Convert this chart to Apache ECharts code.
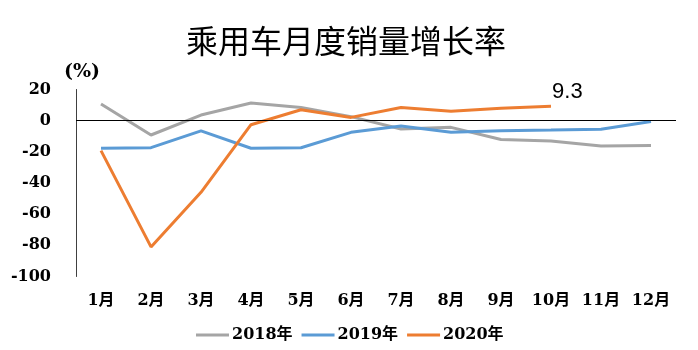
<!DOCTYPE html>
<html>
<head>
<meta charset="utf-8">
<script src="https://cdn.jsdelivr.net/npm/echarts@6/dist/echarts.min.js"></script>
<style>html,body{margin:0;padding:0;background:#fff;}#c{width:698px;height:350px;}</style>
</head>
<body>
<div id="c"></div>
<script>
const months = ['1月','2月','3月','4月','5月','6月','7月','8月','9月','10月','11月','12月'];
const s2018 = [10.7, -9.2, 3.6, 11.3, 8.5, 2.6, -5.3, -4.3, -12.1, -13, -16.2, -16];
const s2019 = [-17.7, -17.3, -6.6, -17.7, -17.4, -7.5, -3.4, -7.4, -6.4, -6, -5.5, -0.6];
const s2020 = [-19.2, -81, -46, -2.6, 7.0, 2.1, 8.5, 6.0, 7.9, 9.3, null, null];
const seriesNames = ['2018年','2019年','2020年'];
const colors = ['#A5A5A5','#5B9BD5','#ED7D31'];
const labelIndex = 9;

const numFont = '"DejaVu Serif", "Noto Sans CJK SC", serif';
const chart = echarts.init(document.getElementById('c'));
const data2020 = s2020.map((v, i) => i === labelIndex ? {
  value: v,
  label: {show: true, position: 'right', distance: 1, offset: [0, -14],
    formatter: '{c}', fontFamily: '"Liberation Sans", sans-serif', fontSize: 22, color: '#000'}
} : v);

chart.setOption({
  animation: false,
  color: colors,
  title: {
    text: '乘用车月度销量增长率', left: 181, top: 20,
    textStyle: {fontFamily: '"Noto Sans CJK SC"', fontSize: 32, fontWeight: 'normal', color: '#000'}
  },
  graphic: [{
    type: 'text', left: 64, top: 63,
    style: {text: '(%)', fontFamily: numFont, fontSize: 19, fontWeight: 'bold', fill: '#000'}
  }],
  legend: {
    data: seriesNames, left: 196, top: 327, padding: 0, icon: 'rect', itemWidth: 33, itemHeight: 3, itemGap: 9,
    textStyle: {fontFamily: numFont, fontSize: 16, fontWeight: 'bold', color: '#000', padding: [0,0,0,-2]}
  },
  grid: {left: 76, right: 22, top: 89.5, bottom: 73.5},
  xAxis: {
    type: 'category', data: months, boundaryGap: true,
    axisLine: {show: false}, axisTick: {show: false},
    axisLabel: {margin: 16, fontFamily: numFont, fontSize: 16, fontWeight: 'bold', color: '#000'}
  },
  yAxis: {
    type: 'value', min: -100, max: 20, interval: 20,
    splitLine: {show: false},
    axisLine: {show: true, lineStyle: {color: '#404040', width: 1}},
    axisTick: {show: false},
    axisLabel: {margin: 25, fontFamily: numFont, fontSize: 16, fontWeight: 'bold', color: '#000'}
  },
  series: [
    {name: seriesNames[0], type: 'line', data: s2018, symbol: 'none', lineStyle: {width: 3, color: colors[0]}, emphasis: {disabled: true},
     markLine: {silent: true, symbol: 'none', label: {show: false}, lineStyle: {color: '#000', width: 1, type: 'solid'}, data: [{yAxis: 0}]}},
    {name: seriesNames[1], type: 'line', data: s2019, symbol: 'none', lineStyle: {width: 3, color: colors[1]}, emphasis: {disabled: true}},
    {name: seriesNames[2], type: 'line', data: data2020, symbol: 'circle', symbolSize: 0.1, showSymbol: true,
     itemStyle: {color: colors[2]}, lineStyle: {width: 3, color: colors[2]}, emphasis: {disabled: true}}
  ]
});
</script>
</body>
</html>
